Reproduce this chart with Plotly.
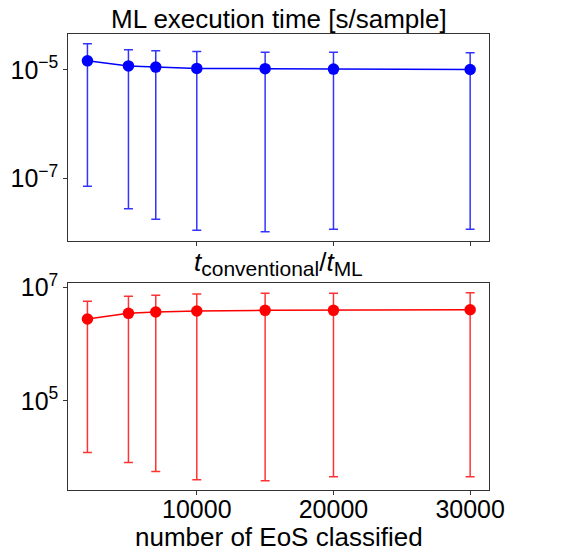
import plotly.graph_objects as go

n_eos = [2000, 5000, 7000, 10000, 15000, 20000, 30000]

t_ml = [1.46e-5, 1.18e-5, 1.12e-5, 1.06e-5, 1.05e-5, 1.03e-5, 1.01e-5]
t_ml_hi = [3.0e-5, 2.33e-5, 2.23e-5, 2.17e-5, 2.11e-5, 2.11e-5, 2.05e-5]
t_ml_lo = [7.2e-8, 2.78e-8, 1.77e-8, 1.12e-8, 1.05e-8, 1.16e-8, 1.16e-8]

ratio = [2.8e6, 3.53e6, 3.73e6, 3.88e6, 3.99e6, 3.99e6, 4.09e6]
ratio_hi = [5.76e6, 7.05e6, 7.35e6, 7.74e6, 7.96e6, 7.96e6, 8.16e6]
ratio_lo = [1.23e4, 8.2e3, 5.69e3, 4.06e3, 3.9e3, 4.58e3, 4.58e3]

x_ticks = [10000, 20000, 30000]
top_ticks = [1e-7, 1e-5]
top_ticktext = ["10<sup>−7</sup>", "10<sup>−5</sup>"]
bot_ticks = [1e5, 1e7]
bot_ticktext = ["10<sup>5</sup>", "10<sup>7</sup>"]

FONT = "Liberation Sans, Arial, Helvetica, sans-serif"
W, H = 579, 551


def px_x(p):
    return p / W


def px_y(p):
    return 1 - p / H


fig = go.Figure()

fig.add_trace(go.Scatter(
    x=n_eos, y=t_ml, mode="lines+markers",
    line=dict(color="blue", width=1.5),
    marker=dict(color="blue", size=11.5),
    error_y=dict(type="data", symmetric=False,
                 array=[h - v for h, v in zip(t_ml_hi, t_ml)],
                 arrayminus=[v - l for v, l in zip(t_ml, t_ml_lo)],
                 color="rgba(0,0,255,0.8)", thickness=1.5, width=4.5),
    xaxis="x", yaxis="y", showlegend=False,
))

fig.add_trace(go.Scatter(
    x=n_eos, y=ratio, mode="lines+markers",
    line=dict(color="red", width=1.5),
    marker=dict(color="red", size=11.5),
    error_y=dict(type="data", symmetric=False,
                 array=[h - v for h, v in zip(ratio_hi, ratio)],
                 arrayminus=[v - l for v, l in zip(ratio, ratio_lo)],
                 color="rgba(255,0,0,0.8)", thickness=1.5, width=4.5),
    xaxis="x2", yaxis="y2", showlegend=False,
))

xdom = [px_x(68.3), px_x(489.3)]
xrange = [600, 31400]
axis_common = dict(showline=True, linecolor="#333", linewidth=1, mirror=True,
                   ticks="outside", ticklen=4, tickcolor="#333", showgrid=False,
                   zeroline=False, automargin=False,
                   tickfont=dict(family=FONT, size=25, color="black"))

fig.update_layout(
    width=W, height=H,
    margin=dict(l=0, r=0, t=0, b=0, autoexpand=False),
    plot_bgcolor="white", paper_bgcolor="white",
    xaxis=dict(domain=xdom, range=xrange, anchor="y", tickvals=x_ticks,
               showticklabels=False, **axis_common),
    yaxis=dict(domain=[px_y(240.7), px_y(34.3)], type="log",
               range=[-8.145, -4.347], tickvals=top_ticks, ticktext=top_ticktext,
               anchor="x", **axis_common),
    xaxis2=dict(domain=xdom, range=xrange, anchor="y2", tickvals=x_ticks,
                ticktext=[str(v) for v in x_ticks], ticklabelstandoff=-7,
                **axis_common),
    yaxis2=dict(domain=[px_y(490), px_y(283.3)], type="log",
                range=[3.428, 7.078], tickvals=bot_ticks, ticktext=bot_ticktext,
                anchor="x2", **axis_common),
    annotations=[
        dict(text="ML execution time [s/sample]", x=(xdom[0] + xdom[1]) / 2,
             y=px_y(36), xref="paper", yref="paper", xanchor="center",
             yanchor="bottom", showarrow=False,
             font=dict(family=FONT, size=26, color="black")),
        dict(text="<i>t</i><sub><span style='font-size:21px'>conventional</span></sub>"
                  "/<i>t</i><sub><span style='font-size:21px'>ML</span></sub>",
             x=(xdom[0] + xdom[1]) / 2, y=px_y(282), xref="paper", yref="paper",
             xanchor="center", yanchor="bottom", showarrow=False,
             font=dict(family=FONT, size=26, color="black")),
        dict(text="number of EoS classified", x=(xdom[0] + xdom[1]) / 2,
             y=px_y(537), xref="paper", yref="paper", xanchor="center",
             yanchor="middle", showarrow=False,
             font=dict(family=FONT, size=26, color="black")),
    ],
)

fig.write_html("out.html")
